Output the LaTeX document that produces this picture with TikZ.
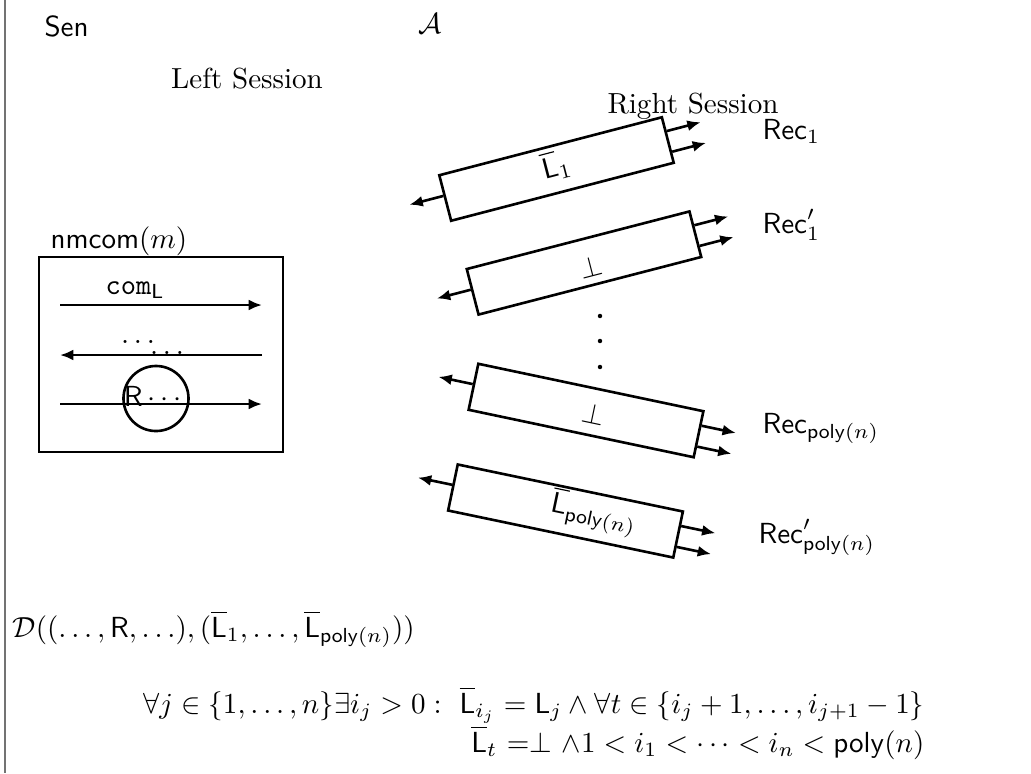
\documentclass[tikz,border=0pt]{standalone}
\usepackage{amsmath}
\usetikzlibrary{arrows.meta,calc}

\begin{document}
\begin{tikzpicture}[
    x=.0121cm,y=.0121cm,font=\normalsize,
    txt/.style={inner sep=0pt},
    flow/.style={line width=.9pt,-{Latex[length=4.6pt,width=3.8pt]}},
    session/.style={draw,line width=.9pt,inner sep=0pt,minimum width=2.783cm,
        minimum height=.569cm},
    dot/.style={circle,fill,inner sep=0pt,minimum size=.054cm}
]
    \useasboundingbox (0,0) rectangle (1031,-773);
    \draw[black!55,line width=.55pt] (5,0) -- (5,-773);

    % Parties and the two session headings.
    \node[txt,anchor=base west] (sen) at (44,-36) {\textsf{Sen}};
    \node[txt,anchor=base] (adv) at (430,-33) {$\mathcal{A}$};
    \node[txt,anchor=base] (lefthead) at (247,-88) {Left Session};
    \node[txt,anchor=base] (righthead) at (693,-113) {Right Session};

    % Left session: one nmcom execution.
    \node[txt,anchor=base west] (nmcom) at (50,-248) {$\mathsf{nmcom}(m)$};
    \node[draw,line width=.9pt,inner sep=0pt,minimum width=2.952cm,
        minimum height=2.36cm] (nmbox) at (161,-354.5) {};
    \foreach \name/\y in {top/305,mid/355,low/404} {
        \coordinate (\name-w) at (60,-\y);
        \coordinate (\name-e) at (262,-\y);
    }
    \draw[flow] (top-w) -- (top-e);
    \draw[flow] (mid-e) -- (mid-w);
    \draw[flow] (low-w) -- (low-e);
    \node[txt] (coml) at (135,-290) {$\mathtt{com}_{\mathsf{L}}$};
    \node[txt] (dotsa) at (138,-342) {$\ldots$};
    \node[txt] (dotsb) at (167,-353) {$\ldots$};
    \node[circle,draw,line width=.9pt,inner sep=0pt,minimum size=.787cm]
        (rmsg) at (156,-398.5) {};
    \node[txt] (rtext) at (155,-396) {$\mathsf{R}\cdots$};

    % Right session: tilted copies with their receivers.
    \node[session,rotate=14.6] (lone) at (556.5,-169) {};
    \node[session,rotate=14.5] (botone) at (584,-263) {};
    \node[session,rotate=-11.9] (bottwo) at (586,-410.5) {};
    \node[session,rotate=-11.8] (lpoly) at (565.5,-511) {};
    \node[txt,rotate=14.6] (lonetext) at (556,-165) {$\overline{\mathsf{L}}_1$};
    \node[txt,rotate=14.5] (botonetext) at (591,-267) {$\bot$};
    \node[txt,rotate=-11.9] (bottwotext) at (593.5,-413.5) {$\bot$};
    \node[txt,rotate=-11.8] (lpolytext) at (594,-513)
        {$\overline{\mathsf{L}}_{\mathsf{poly}(n)}$};

    \foreach \b/\ang in {lone/14.6,botone/14.5,bottwo/-11.9,lpoly/-11.8} {
        \draw[flow] ($(\b.north west)!.45!(\b.south west)$) -- ++(180+\ang:35);
        \draw[flow] ($(\b.north east)!.32!(\b.south east)$) -- ++(\ang:35);
        \draw[flow] ($(\b.north east)!.75!(\b.south east)$) -- ++(\ang:35);
    }

    \foreach \y [count=\i] in {316,341,367}
        \node[dot] (vdot\i) at (600,-\y) {};

    \node[txt,anchor=base west] (recone) at (762,-139) {$\mathsf{Rec}_1$};
    \node[txt,anchor=base west] (reconep) at (762,-233) {$\mathsf{Rec}'_1$};
    \node[txt,anchor=base west] (recpoly) at (762,-433)
        {$\mathsf{Rec}_{\mathsf{poly}(n)}$};
    \node[txt,anchor=base west] (recpolyp) at (758,-543)
        {$\mathsf{Rec}'_{\mathsf{poly}(n)}$};

    % Distinguisher and the condition on the right labels.
    \node[txt,anchor=base west] (dist) at (12,-637)
        {$\mathcal{D}((\ldots,\mathsf{R},\ldots),(\overline{\mathsf{L}}_1,\ldots,
        \overline{\mathsf{L}}_{\mathsf{poly}(n)}))$};
    \node[txt,anchor=base east] (condone) at (925,-713)
        {$\forall j\in\{1,\ldots,n\}\exists i_j>0:\ \overline{\mathsf{L}}_{i_j}
        =\mathsf{L}_j\wedge\forall t\in\{i_j+1,\ldots,i_{j+1}-1\}$};
    \node[txt,anchor=base east] (condtwo) at (925,-752)
        {$\overline{\mathsf{L}}_t\ {=}{\bot}\ {\wedge}1<i_1<\cdots<i_n
        <\mathsf{poly}(n)$};
\end{tikzpicture}
\end{document}
